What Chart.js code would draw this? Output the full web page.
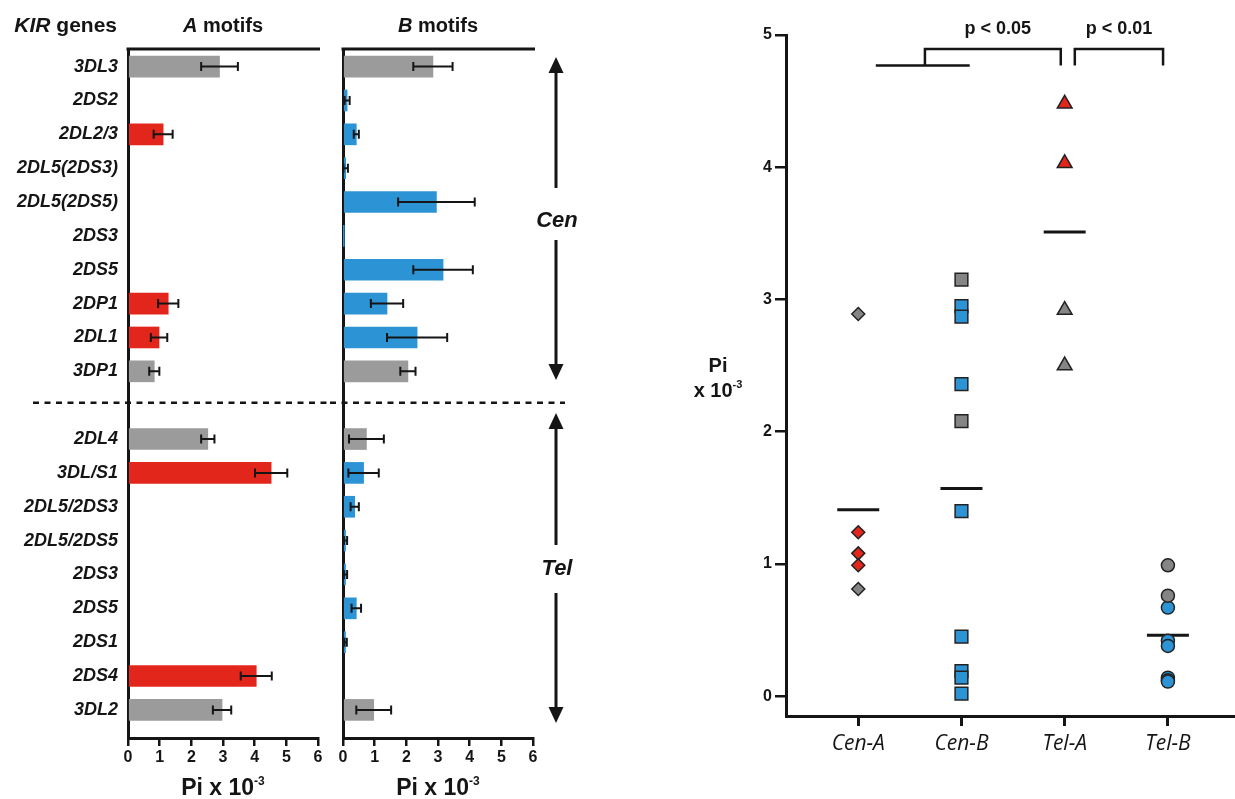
<!DOCTYPE html>
<html>
<head>
<meta charset="utf-8">
<script src="https://cdn.jsdelivr.net/npm/chart.js@4.4.0/dist/chart.umd.min.js"></script>
<style>
  body { margin: 0; background: #fff; width: 1235px; height: 799px; overflow: hidden; position: relative; }
  canvas { position: absolute; top: 0; }
  #chartA { left: 0; }
  #chartB { left: 330px; }
  #chartC { left: 680px; }
</style>
</head>
<body>
<canvas id="chartA" width="330" height="799"></canvas>
<canvas id="chartB" width="250" height="799"></canvas>
<canvas id="chartC" width="555" height="799"></canvas>
<script>
// ---- data ----
const genes = ['3DL3', '2DS2', '2DL2/3', '2DL5(2DS3)', '2DL5(2DS5)', '2DS3', '2DS5', '2DP1', '2DL1', '3DP1', '',
  '2DL4', '3DL/S1', '2DL5/2DS3', '2DL5/2DS5', '2DS3', '2DS5', '2DS1', '2DS4', '3DL2'];
const frameworkGenes = ['3DL3', '3DP1', '2DL4', '3DL2'];
const aMotif = [2.89, null, 1.11, null, null, null, null, 1.27, 0.98, 0.83, null,
  2.52, 4.52, null, null, null, null, null, 4.05, 2.97];
const aError = [0.58, null, 0.30, null, null, null, null, 0.32, 0.26, 0.16, null,
  0.21, 0.51, null, null, null, null, null, 0.49, 0.29];
const bMotif = [2.84, 0.13, 0.42, 0.085, 2.95, 0.01, 3.16, 1.39, 2.34, 2.05, null,
  0.74, 0.65, 0.37, 0.08, 0.08, 0.42, 0.08, null, 0.97];
const bError = [0.62, 0.08, 0.08, 0.07, 1.21, 0, 0.94, 0.51, 0.95, 0.24, null,
  0.55, 0.48, 0.13, 0.05, 0.05, 0.15, 0.04, null, 0.55];
const barTicks = [0, 1, 2, 3, 4, 5, 6];

const groups = ['Cen-A', 'Cen-B', 'Tel-A', 'Tel-B'];
const frameworkPi = [[2.89, 0.81], [3.15, 2.08], [2.92, 2.50], [0.99, 0.76]];
const motifPi = [[1.24, 1.08, 0.99], [2.95, 2.87, 2.36, 1.40, 0.45, 0.19, 0.14, 0.02], [4.48, 4.03],
  [0.67, 0.42, 0.38, 0.14, 0.12, 0.11]];
const groupMeans = [1.41, 1.57, 3.51, 0.46];
const piTicks = [0, 1, 2, 3, 4, 5];

// ---- style ----
const ink = '#151515';
const red = '#e3261c', blue = '#2c93d4', gray = '#9b9b9b', markGray = '#858585';
const sans = "'Liberation Sans', Arial, sans-serif";

function motifDataset(values, errors, motifColor) {
  const data = [], colors = [], errs = [];
  values.forEach((v, i) => {
    if (v === null) return;
    data.push({x: v, y: i});
    colors.push(frameworkGenes.includes(genes[i]) ? gray : motifColor);
    errs.push(errors[i]);
  });
  return {data, backgroundColor: colors, errors: errs, barThickness: 21, borderWidth: 0};
}

function drawRuns(ctx, runs, x, y, align) {
  let total = 0;
  runs.forEach(r => { ctx.font = r.font; r.w = ctx.measureText(r.text).width; total += r.w; });
  let cx = align === 'right' ? x - total : align === 'center' ? x - total / 2 : x;
  ctx.textAlign = 'left';
  ctx.textBaseline = 'alphabetic';
  ctx.fillStyle = ink;
  runs.forEach(r => { ctx.font = r.font; ctx.fillText(r.text, cx, y + (r.dy || 0)); cx += r.w; });
}

function piTitle(ctx, x, y, size, align) {
  drawRuns(ctx, [
    {text: 'Pi x 10', font: `bold ${size}px ${sans}`},
    {text: '-3', font: `bold ${Math.round(size * 0.52)}px ${sans}`, dy: -size * 0.42}
  ], x, y, align);
}

function arrow(ctx, x, y0, y1, y2, y3) {
  // upper part from y0 (tip) to y1, lower part from y2 to y3 (tip)
  ctx.save();
  ctx.strokeStyle = ink; ctx.fillStyle = ink; ctx.lineWidth = 3;
  ctx.beginPath(); ctx.moveTo(x, y0 + 10); ctx.lineTo(x, y1); ctx.moveTo(x, y2); ctx.lineTo(x, y3 - 10); ctx.stroke();
  ctx.beginPath(); ctx.moveTo(x, y0); ctx.lineTo(x - 7.5, y0 + 16); ctx.lineTo(x + 7.5, y0 + 16); ctx.closePath(); ctx.fill();
  ctx.beginPath(); ctx.moveTo(x, y3); ctx.lineTo(x - 7.5, y3 - 16); ctx.lineTo(x + 7.5, y3 - 16); ctx.closePath(); ctx.fill();
  ctx.restore();
}

const errorBars = {
  id: 'errorBars',
  afterDatasetsDraw(chart) {
    const {ctx, scales: {x, y}} = chart;
    chart.data.datasets.forEach(ds => {
      if (!ds.errors) return;
      ctx.save();
      ctx.strokeStyle = ink; ctx.lineWidth = 2;
      ds.data.forEach((p, i) => {
        const e = ds.errors[i];
        if (!e) return;
        const x0 = x.getPixelForValue(p.x - e), x1 = x.getPixelForValue(p.x + e), py = y.getPixelForValue(p.y);
        ctx.beginPath();
        ctx.moveTo(x0, py); ctx.lineTo(x1, py);
        ctx.moveTo(x0, py - 4.5); ctx.lineTo(x0, py + 4.5);
        ctx.moveTo(x1, py - 4.5); ctx.lineTo(x1, py + 4.5);
        ctx.stroke();
      });
      ctx.restore();
    });
  }
};

function panelDecor(title, dashFrom, dashTo, extra) {
  return {
    id: 'panelDecor',
    afterDraw(chart) {
      const {ctx, chartArea: a, scales: {y}} = chart;
      ctx.save();
      // top frame line
      ctx.strokeStyle = ink; ctx.lineWidth = 3;
      ctx.beginPath(); ctx.moveTo(a.left - 1.5, a.top); ctx.lineTo(a.right + 2, a.top); ctx.stroke();
      // Cen / Tel separator
      const yd = y.getPixelForValue(9.93);
      ctx.lineWidth = 2.5; ctx.setLineDash([6, 5.5]);
      ctx.beginPath(); ctx.moveTo(dashFrom, yd); ctx.lineTo(dashTo, yd); ctx.stroke();
      ctx.setLineDash([]);
      drawRuns(ctx, title, (a.left + a.right) / 2, 32, 'center');
      piTitle(ctx, (a.left + a.right) / 2, 795, 23, 'center');
      if (extra) extra(ctx, chart);
      ctx.restore();
    }
  };
}

function noSidePadding(s) {
  s.paddingLeft = 0;
  s.paddingRight = 0;
}

function barOptions(showLabels, yWidth, rightPad) {
  return {
    responsive: false,
    animation: false,
    indexAxis: 'y',
    layout: {autoPadding: false, padding: {top: 49, right: rightPad, left: 0, bottom: 0}},
    plugins: {legend: {display: false}, tooltip: {enabled: false}},
    scales: {
      x: {
        type: 'linear', min: 0, max: 6,
        afterBuildTicks: s => { s.ticks = barTicks.map(v => ({value: v})); },
        afterFit: s => { s.height = 61; noSidePadding(s); },
        ticks: {color: ink, font: {family: sans, weight: 'bold', size: 16}, padding: 2},
        grid: {drawOnChartArea: false, drawTicks: true, tickLength: 8, lineWidth: 2.5, color: ink},
        border: {display: true, width: 3, color: ink}
      },
      y: {
        type: 'linear', reverse: true, min: -0.52, max: 19.83, offset: false,
        afterBuildTicks: s => { s.ticks = genes.map((g, i) => ({value: i})); },
        afterFit: s => { s.width = yWidth; },
        ticks: {
          display: showLabels, autoSkip: false, padding: 10, color: ink,
          font: {family: sans, weight: 'bold', style: 'italic', size: 18},
          callback: v => genes[v]
        },
        grid: {display: false, drawTicks: false},
        border: {display: true, width: 3, color: ink}
      }
    }
  };
}

new Chart('chartA', {
  type: 'bar',
  data: {datasets: [motifDataset(aMotif, aError, red)]},
  options: barOptions(true, 128, 12),
  plugins: [errorBars, panelDecor(
    [{text: 'A', font: `bold italic 20px ${sans}`}, {text: ' motifs', font: `bold 20px ${sans}`}], 33, 330,
    ctx => drawRuns(ctx, [{text: 'KIR', font: `bold italic 21px ${sans}`}, {text: ' genes', font: `bold 21px ${sans}`}], 117, 32, 'right')
  )]
});

new Chart('chartB', {
  type: 'bar',
  data: {datasets: [motifDataset(bMotif, bError, blue)]},
  options: barOptions(false, 13, 47),
  plugins: [errorBars, panelDecor(
    [{text: 'B', font: `bold italic 20px ${sans}`}, {text: ' motifs', font: `bold 20px ${sans}`}], 0, 235,
    ctx => {
      arrow(ctx, 226, 57, 188, 240, 380);
      arrow(ctx, 226, 413, 545, 593, 723);
      drawRuns(ctx, [{text: 'Cen', font: `bold italic 22px ${sans}`}], 227, 227, 'center');
      drawRuns(ctx, [{text: 'Tel', font: `bold italic 22px ${sans}`}], 227, 575, 'center');
    }
  )]
});

// ---- scatter: Pi per haplotype region ----
const markerStyle = ['rectRot', 'rect', 'triangle', 'circle'];
const markerRadius = [6.5, 9, 8.5, 6.5];
const motifColor = [red, blue, red, blue];
const scatterSets = [];
groups.forEach((g, gi) => {
  scatterSets.push({
    data: frameworkPi[gi].map(v => ({x: gi, y: v})),
    pointStyle: markerStyle[gi], pointRadius: markerRadius[gi],
    backgroundColor: markGray, borderColor: '#222', borderWidth: 1.5
  });
  scatterSets.push({
    data: motifPi[gi].map(v => ({x: gi, y: v})),
    pointStyle: markerStyle[gi], pointRadius: markerRadius[gi],
    backgroundColor: motifColor[gi], borderColor: '#222', borderWidth: 1.5
  });
});
scatterSets.push({
  data: groupMeans.map((v, gi) => ({x: gi, y: v})),
  pointStyle: 'line', pointRadius: 21, borderColor: ink, borderWidth: 3, backgroundColor: ink
});

const brackets = {
  id: 'brackets',
  afterDraw(chart) {
    const {ctx, scales: {x, y}} = chart;
    const px = v => x.getPixelForValue(v), py = v => y.getPixelForValue(v);
    ctx.save();
    ctx.strokeStyle = ink; ctx.lineWidth = 2.5;
    ctx.beginPath();
    // Cen (A and B) vs Tel-A
    ctx.moveTo(px(0.17), py(4.77)); ctx.lineTo(px(1.08), py(4.77));
    ctx.moveTo(px(0.646), py(4.77)); ctx.lineTo(px(0.646), py(4.894));
    ctx.lineTo(px(1.962), py(4.894)); ctx.lineTo(px(1.962), py(4.77));
    // Tel-A vs Tel-B
    ctx.moveTo(px(2.098), py(4.77)); ctx.lineTo(px(2.098), py(4.894));
    ctx.lineTo(px(2.953), py(4.894)); ctx.lineTo(px(2.953), py(4.77));
    ctx.stroke();
    drawRuns(ctx, [{text: 'p < 0.05', font: `bold 18px ${sans}`}], (px(0.646) + px(1.962)) / 2 + 5, 34, 'center');
    drawRuns(ctx, [{text: 'p < 0.01', font: `bold 18px ${sans}`}], (px(2.098) + px(2.953)) / 2, 34, 'center');
    // y axis title
    drawRuns(ctx, [{text: 'Pi', font: `bold 20px ${sans}`}], 38, 372, 'center');
    drawRuns(ctx, [
      {text: 'x 10', font: `bold 20px ${sans}`},
      {text: '-3', font: `bold 11px ${sans}`, dy: -9}
    ], 38, 397, 'center');
    ctx.restore();
  }
};

new Chart('chartC', {
  type: 'scatter',
  data: {datasets: scatterSets},
  options: {
    responsive: false,
    animation: false,
    layout: {autoPadding: false, padding: {top: 35, right: 0, left: 0, bottom: 0}},
    plugins: {legend: {display: false}, tooltip: {enabled: false}},
    scales: {
      x: {
        type: 'linear', min: -0.7, max: 3.65,
        afterBuildTicks: s => { s.ticks = groups.map((g, i) => ({value: i})); },
        afterFit: s => { s.height = 83; noSidePadding(s); },
        ticks: {color: ink, padding: 5, font: {family: "'Open Sans', sans-serif", style: 'italic', size: 21},
          callback: v => groups[v]},
        grid: {drawOnChartArea: false, drawTicks: true, tickLength: 10, lineWidth: 3, color: ink},
        border: {display: true, width: 3, color: ink}
      },
      y: {
        type: 'linear', min: -0.15, max: 5,
        afterBuildTicks: s => { s.ticks = piTicks.map(v => ({value: v})); },
        afterFit: s => { s.width = 106; },
        ticks: {color: ink, padding: 3, font: {family: sans, weight: 'bold', size: 16}},
        grid: {drawOnChartArea: false, drawTicks: true, tickLength: 11, lineWidth: 2.5, color: ink},
        border: {display: true, width: 3, color: ink}
      }
    }
  },
  plugins: [brackets]
});
</script>
</body>
</html>
